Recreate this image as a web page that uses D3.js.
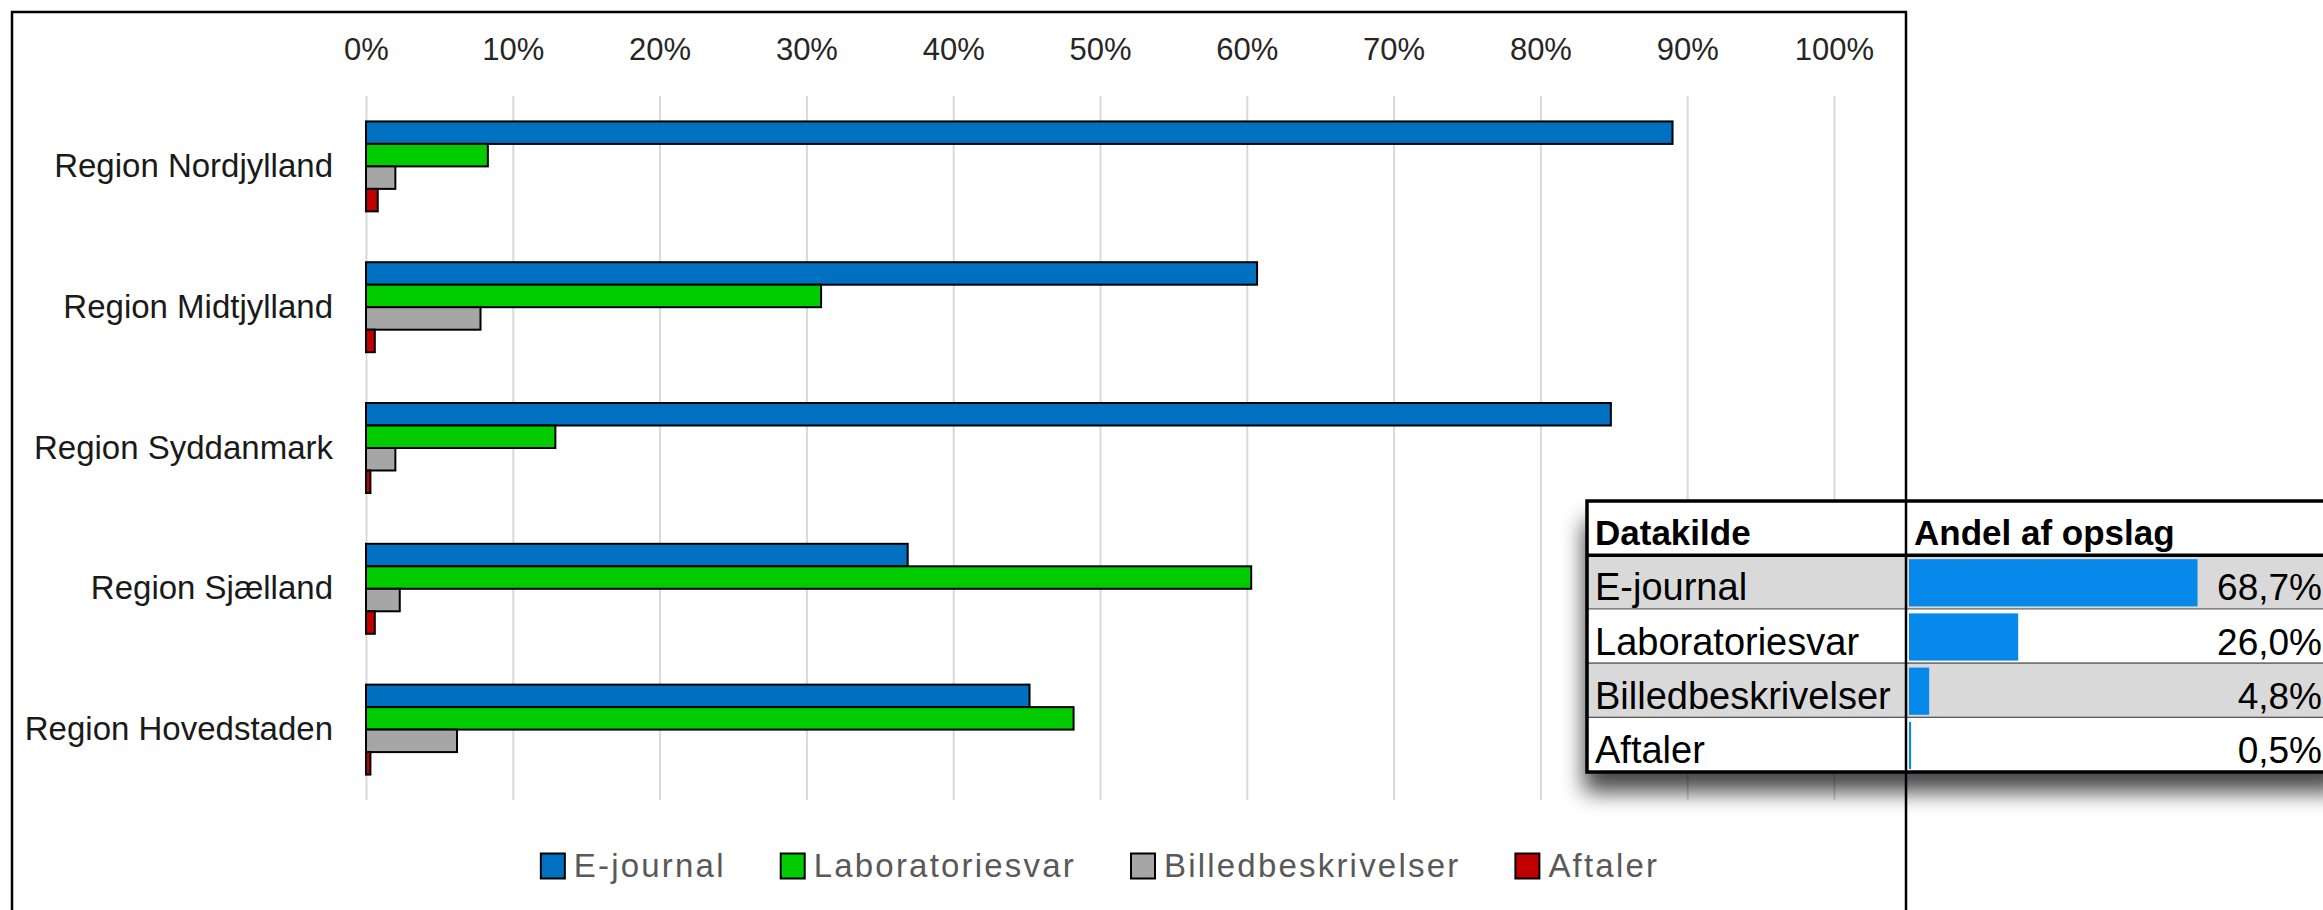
<!DOCTYPE html>
<html>
<head>
<meta charset="utf-8">
<script src="https://cdn.jsdelivr.net/npm/d3@7"></script>
<style>
  body { margin: 0; background: #fff; }
  svg { display: block; font-family: "Liberation Sans", Arial, sans-serif; }
</style>
</head>
<body>
<div id="chart"></div>
<script>
// chart data (percent)
const regions = ["Region Nordjylland", "Region Midtjylland", "Region Syddanmark", "Region Sjælland", "Region Hovedstaden"];
const seriesNames = ["E-journal", "Laboratoriesvar", "Billedbeskrivelser", "Aftaler"];
const eJournal = [89.0, 60.7, 84.8, 36.9, 45.2];
const laboratoriesvar = [8.3, 31.0, 12.9, 60.3, 48.2];
const billedbeskrivelser = [2.0, 7.8, 2.0, 2.3, 6.2];
const aftaler = [0.8, 0.6, 0.3, 0.6, 0.3];
const tickValues = [0, 10, 20, 30, 40, 50, 60, 70, 80, 90, 100];

// overlay table
const tableHeader = ["Datakilde", "Andel af opslag"];
const sources = ["E-journal", "Laboratoriesvar", "Billedbeskrivelser", "Aftaler"];
const shares = [68.7, 26.0, 4.8, 0.5];

const seriesValues = [eJournal, laboratoriesvar, billedbeskrivelser, aftaler];
const colors = ["#0070C0", "#00CC00", "#A6A6A6", "#C00000"];

const width = 2323, height = 910;
const plotTop = 96, plotBottom = 800;

const svg = d3.select("#chart").append("svg")
  .attr("width", width)
  .attr("height", height);

// chart frame
svg.append("rect")
  .attr("x", 12).attr("y", 12)
  .attr("width", 1894).attr("height", 930)
  .attr("fill", "#fff")
  .attr("stroke", "#000")
  .attr("stroke-width", 2.5);

const x = d3.scaleLinear().domain([0, 100]).range([366, 1834]);
const y = d3.scaleBand().domain(regions).range([plotTop, plotBottom])
  .paddingInner(0.361).paddingOuter(0.1805);
const ySeries = d3.scaleBand().domain(seriesNames).range([0, y.bandwidth()]);
const color = d3.scaleOrdinal().domain(seriesNames).range(colors);

// top axis + gridlines
const xAxis = svg.append("g")
  .attr("transform", `translate(0,${plotTop})`)
  .call(d3.axisTop(x)
    .tickValues(tickValues)
    .tickFormat(d => d + "%")
    .tickSizeInner(-(plotBottom - plotTop))
    .tickSizeOuter(0)
    .tickPadding(36));
xAxis.select(".domain").remove();
xAxis.selectAll(".tick line").attr("stroke", "#d9d9d9").attr("stroke-width", 2);
xAxis.selectAll(".tick text")
  .attr("font-size", 31)
  .attr("font-family", "'Liberation Sans', Arial, sans-serif")
  .attr("fill", "#262626");

// category axis
const yAxis = svg.append("g")
  .attr("transform", `translate(${x(0)},0)`)
  .call(d3.axisLeft(y).tickSize(0).tickPadding(33));
yAxis.select(".domain").remove();
yAxis.selectAll(".tick text")
  .attr("font-size", 33)
  .attr("font-family", "'Liberation Sans', Arial, sans-serif")
  .attr("fill", "#1a1a1a");

// bars
const groups = svg.append("g").selectAll("g")
  .data(regions.map((r, i) => ({
    region: r,
    values: seriesNames.map((s, j) => ({ series: s, value: seriesValues[j][i] }))
  })))
  .join("g")
  .attr("transform", d => `translate(0,${y(d.region)})`);

groups.selectAll("rect")
  .data(d => d.values)
  .join("rect")
  .attr("x", x(0))
  .attr("y", d => ySeries(d.series))
  .attr("width", d => x(d.value) - x(0))
  .attr("height", ySeries.bandwidth())
  .attr("fill", d => color(d.series))
  .attr("stroke", "#000")
  .attr("stroke-width", 2);

// legend
const legend = svg.append("g").attr("transform", "translate(0,866)");
const items = legend.selectAll("g").data(seriesNames).join("g");
items.append("rect")
  .attr("x", 0).attr("y", -12.5)
  .attr("width", 24).attr("height", 25)
  .attr("fill", d => color(d))
  .attr("stroke", "#000")
  .attr("stroke-width", 2);
items.append("text")
  .attr("x", 33).attr("y", 11)
  .attr("font-size", 33)
  .attr("letter-spacing", 2.2)
  .attr("fill", "#595959")
  .text(d => d);

let cursor = 0;
items.each(function () {
  const w = d3.select(this).select("text").node().getComputedTextLength();
  d3.select(this).attr("transform", `translate(${cursor},0)`);
  cursor += 33 + w + 55;
});
const legendWidth = cursor - 55;
legend.attr("transform", `translate(${(x(0) + x(100)) / 2 - legendWidth / 2},866)`);

// overlay table with shadow
const defs = svg.append("defs");
const filter = defs.append("filter").attr("id", "shadow")
  .attr("x", "-10%").attr("y", "-20%").attr("width", "130%").attr("height", "160%");
filter.append("feDropShadow")
  .attr("dx", -3).attr("dy", 20)
  .attr("stdDeviation", 11)
  .attr("flood-color", "#000")
  .attr("flood-opacity", 0.72);

const colLeft = 1587, colMid = 1906, colRight = 2345;
const rows = d3.scaleBand().domain(["header", ...sources]).range([501, 772]);
const barScale = d3.scaleLinear().domain([0, 100]).range([0, 420]);

const table = svg.append("g");
table.append("rect")
  .attr("x", colLeft).attr("y", rows.range()[0])
  .attr("width", colRight - colLeft).attr("height", rows.range()[1] - rows.range()[0])
  .attr("fill", "#fff")
  .attr("filter", "url(#shadow)");

const dataRows = table.selectAll("g.row")
  .data(sources.map((s, i) => ({ source: s, share: shares[i], index: i })))
  .join("g")
  .attr("class", "row")
  .attr("transform", d => `translate(0,${rows(d.source)})`);

dataRows.append("rect")
  .attr("x", colLeft).attr("y", 0)
  .attr("width", colRight - colLeft).attr("height", rows.bandwidth())
  .attr("fill", d => d.index % 2 === 0 ? "#d9d9d9" : "#fff");

dataRows.append("rect")
  .attr("x", colMid + 3).attr("y", 4)
  .attr("width", d => barScale(d.share))
  .attr("height", rows.bandwidth() - 7)
  .attr("fill", "#0689ea");

dataRows.append("text")
  .attr("x", colLeft + 8).attr("y", rows.bandwidth() - 9)
  .attr("font-size", 38)
  .attr("fill", "#000")
  .text(d => d.source);

dataRows.append("text")
  .attr("x", 2322).attr("y", rows.bandwidth() - 9)
  .attr("text-anchor", "end")
  .attr("font-size", 37)
  .attr("fill", "#000")
  .text(d => d3.format(".1f")(d.share).replace(".", ",") + "%");

dataRows.append("line")
  .attr("x1", colLeft).attr("x2", colRight)
  .attr("y1", rows.bandwidth()).attr("y2", rows.bandwidth())
  .attr("stroke", "#333").attr("stroke-width", 2);

// header
table.selectAll("text.head")
  .data(tableHeader)
  .join("text")
  .attr("class", "head")
  .attr("x", (d, i) => i === 0 ? colLeft + 8 : colMid + 8)
  .attr("y", rows("header") + rows.bandwidth() - 10)
  .attr("font-size", 35)
  .attr("font-weight", "bold")
  .attr("fill", "#000")
  .text(d => d);

table.append("line")
  .attr("x1", colLeft).attr("x2", colRight)
  .attr("y1", rows("header") + rows.bandwidth()).attr("y2", rows("header") + rows.bandwidth())
  .attr("stroke", "#000").attr("stroke-width", 3.5);

table.append("line")
  .attr("x1", colMid).attr("x2", colMid)
  .attr("y1", rows.range()[0]).attr("y2", rows.range()[1])
  .attr("stroke", "#000").attr("stroke-width", 2.5);

table.append("rect")
  .attr("x", colLeft).attr("y", rows.range()[0])
  .attr("width", colRight - colLeft).attr("height", rows.range()[1] - rows.range()[0])
  .attr("fill", "none")
  .attr("stroke", "#000")
  .attr("stroke-width", 3.5);
</script>
</body>
</html>
